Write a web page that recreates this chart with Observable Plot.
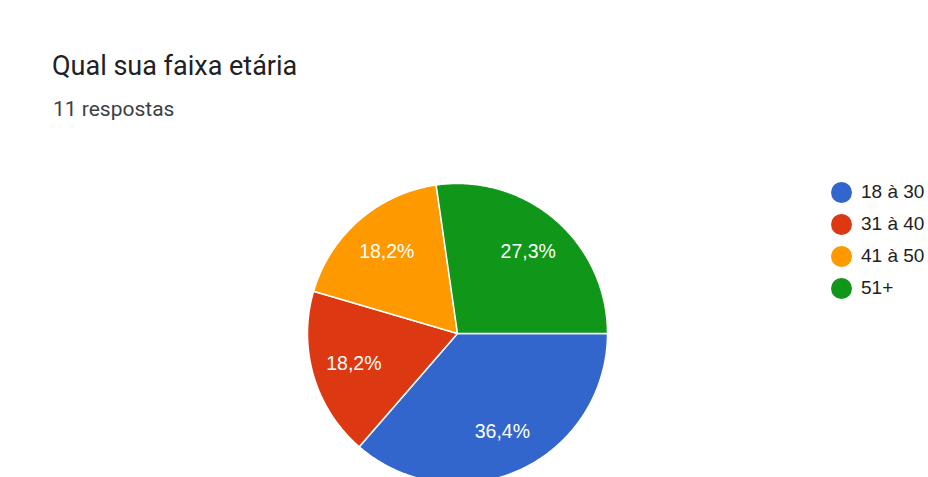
<!DOCTYPE html>
<html>
<head>
<meta charset="utf-8">
<script src="https://cdn.jsdelivr.net/npm/d3@7"></script>
<script src="https://cdn.jsdelivr.net/npm/@observablehq/plot@0.6"></script>
<style>
  html, body { margin: 0; padding: 0; background: #fff; width: 928px; height: 477px; overflow: hidden; font-family: Roboto, "Noto Sans", sans-serif; }
  #wrap { position: relative; width: 928px; height: 477px; overflow: hidden; }
  #title { position: absolute; left: 52px; top: 50px; font-size: 27px; line-height: normal; color: #202124; white-space: nowrap; }
  #subtitle { position: absolute; left: 53px; top: 97px; font-size: 21px; line-height: normal; color: #3c4043; white-space: nowrap; }
  #chart { position: absolute; left: 0; top: 140px; }
  #legend { position: absolute; left: 831px; top: 176px; font-family: "Liberation Sans", Arial, sans-serif; }
  .item { height: 32px; display: flex; align-items: center; white-space: nowrap; font-size: 19px; color: #222; }
  .sw { width: 21px; height: 21px; border-radius: 50%; margin-right: 9px; flex: none; }
</style>
</head>
<body>
<div id="wrap">
  <div id="title">Qual sua faixa etária</div>
  <div id="subtitle">11 respostas</div>
  <div id="chart"></div>
  <div id="legend"></div>
</div>
<script>
const categories = ["18 à 30", "31 à 40", "41 à 50", "51+"];
const counts = [4, 2, 2, 3];
const colors = ["#3366cc", "#dc3912", "#ff9900", "#109618"];

const total = d3.sum(counts);
const data = categories.map((c, i) => ({cat: c, value: counts[i]}));
const arcs = d3.pie().value(d => d.value).sort(null)
  .startAngle(Math.PI / 2).endAngle(Math.PI / 2 + 2 * Math.PI)(data);

// polygon outlines of each slice in unit-radius space
const outline = [];
for (const a of arcs) {
  const n = Math.max(2, Math.ceil((a.endAngle - a.startAngle) / (Math.PI / 360)));
  outline.push({cat: a.data.cat, x: 0, y: 0});
  for (let k = 0; k <= n; k++) {
    const t = a.startAngle + (a.endAngle - a.startAngle) * k / n;
    outline.push({cat: a.data.cat, x: Math.sin(t), y: Math.cos(t)});
  }
  outline.push({cat: a.data.cat, x: 0, y: 0});
}
const labels = arcs.map(a => {
  const m = (a.startAngle + a.endAngle) / 2;
  const r = 0.72;
  return {
    cat: a.data.cat,
    x: Math.sin(m) * r,
    y: Math.cos(m) * r,
    text: (a.data.value / total * 100).toFixed(1).replace(".", ",") + "%"
  };
});

const W = 928, H = 337, R = 150, cx = 457, cy = 193;
const plot = Plot.plot({
  width: W,
  height: H,
  margin: 0,
  style: {fontFamily: "'Liberation Sans', Arial, sans-serif", background: "transparent"},
  x: {domain: [-cx / R, (W - cx) / R], axis: null},
  y: {domain: [-(H - cy) / R, cy / R], axis: null},
  color: {domain: categories, range: colors},
  marks: [
    Plot.line(outline, {x: "x", y: "y", z: "cat", fill: "cat", stroke: "white", strokeWidth: 1.5, strokeLinejoin: "round"}),
    Plot.text(labels, {x: "x", y: "y", text: "text", fill: "white", fontSize: 19.5})
  ]
});
document.getElementById("chart").appendChild(plot);

const legend = document.getElementById("legend");
categories.forEach((c, i) => {
  const it = document.createElement("div");
  it.className = "item";
  const sw = document.createElement("span");
  sw.className = "sw";
  sw.style.background = colors[i];
  const tx = document.createElement("span");
  tx.textContent = c;
  it.appendChild(sw);
  it.appendChild(tx);
  legend.appendChild(it);
});
</script>
</body>
</html>
